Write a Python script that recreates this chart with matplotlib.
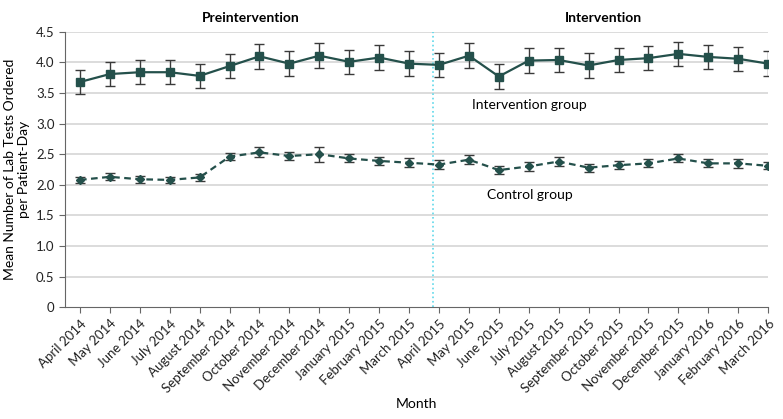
import numpy as np
import matplotlib
matplotlib.use("Agg")
import matplotlib.pyplot as plt

plt.rcParams['font.family'] = ['Lato', 'DejaVu Sans']

meses = ['April 2014', 'May 2014', 'June 2014', 'July 2014', 'August 2014',
         'September 2014', 'October 2014', 'November 2014', 'December 2014',
         'January 2015', 'February 2015', 'March 2015', 'April 2015', 'May 2015',
         'June 2015', 'July 2015', 'August 2015', 'September 2015', 'October 2015',
         'November 2015', 'December 2015', 'January 2016', 'February 2016',
         'March 2016']

# Grupo de intervención
intervencion = [3.68, 3.81, 3.84, 3.84, 3.78, 3.94, 4.10, 3.98, 4.11, 4.01, 4.08, 3.98,
                3.96, 4.11, 3.77, 4.03, 4.04, 3.95, 4.04, 4.07, 4.14, 4.09, 4.06, 3.98]
err_intervencion = [0.20, 0.20, 0.20, 0.20, 0.20, 0.20, 0.20, 0.20, 0.20, 0.20, 0.20, 0.20,
                    0.20, 0.20, 0.20, 0.20, 0.20, 0.20, 0.20, 0.20, 0.20, 0.20, 0.20, 0.20]

# Grupo control
control = [2.08, 2.13, 2.09, 2.08, 2.12, 2.46, 2.53, 2.47, 2.50, 2.43, 2.39, 2.36,
           2.33, 2.41, 2.24, 2.30, 2.38, 2.28, 2.32, 2.35, 2.43, 2.35, 2.35, 2.31]
err_control = [0.055, 0.055, 0.055, 0.055, 0.055, 0.06, 0.08, 0.065, 0.12, 0.065, 0.065, 0.07,
               0.075, 0.07, 0.07, 0.07, 0.07, 0.065, 0.07, 0.065, 0.065, 0.065, 0.07, 0.06]

inicio_intervencion = 11.8
yticks = [0, 0.5, 1.0, 1.5, 2.0, 2.5, 3.0, 3.5, 4.0, 4.5]
yticklabels = ['0', '0.5', '1.0', '1.5', '2.0', '2.5', '3.0', '3.5', '4.0', '4.5']

color_linea = '#24504b'
color_err = '#3a3a3a'

fig = plt.figure(figsize=(7.83, 4.19), dpi=100)
ax = fig.add_axes([0.083, 0.267, 0.898, 0.657])

x = np.arange(len(meses))

for y in yticks[1:]:
    ax.axhline(y, color='#d9d9d9', lw=1.3, zorder=0)

ax.axvline(inicio_intervencion, color='#5fd8ea', lw=1.2, ls=':', zorder=1)

ax.errorbar(x, intervencion, yerr=err_intervencion, color=color_linea, ecolor=color_err,
            elinewidth=1, capsize=3.5, capthick=1, marker='s', markersize=5.5,
            lw=1.6, zorder=3)
ax.errorbar(x, control, yerr=err_control, color=color_linea, ecolor=color_err,
            elinewidth=1, capsize=3.5, capthick=1, marker='D', markersize=4.5,
            lw=1.6, ls=(0, (3, 2)), zorder=3)

ax.text(13.1, 3.3, 'Intervention group', fontsize=10, va='center', ha='left')
ax.text(13.6, 1.83, 'Control group', fontsize=10, va='center', ha='left')

ax.text(5.7, 4.72, 'Preintervention', fontsize=10, fontweight='bold', ha='center', va='center')
ax.text(17.5, 4.72, 'Intervention', fontsize=10, fontweight='bold', ha='center', va='center')

ax.set_xlim(-0.5, 23)
ax.set_ylim(0, 4.5)
ax.set_xticks(x)
ax.set_xticklabels(meses, rotation=45, ha='right', rotation_mode='anchor', fontsize=9.5)
ax.set_yticks(yticks)
ax.set_yticklabels(yticklabels, fontsize=9.5)

for lado in ['top', 'right']:
    ax.spines[lado].set_visible(False)
for lado in ['left', 'bottom']:
    ax.spines[lado].set_color('#666666')
ax.tick_params(colors='#666666', labelcolor='#222222', length=4)

ax.set_xlabel('Month', fontsize=10, labelpad=2)
ax.set_ylabel('Mean Number of Lab Tests Ordered\nper Patient-Day', fontsize=10)

fig.savefig('out.png', dpi=100)
